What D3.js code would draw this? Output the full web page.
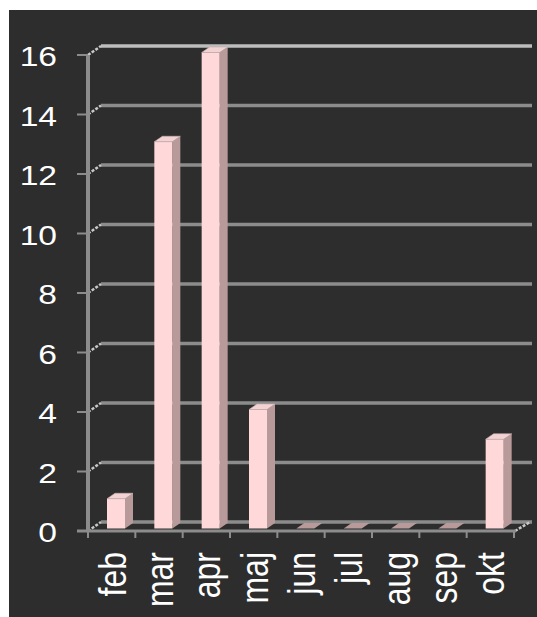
<!DOCTYPE html>
<html>
<head>
<meta charset="utf-8">
<script src="https://cdn.jsdelivr.net/npm/d3@7"></script>
<style>
html,body{margin:0;padding:0;background:#fff;}
svg{display:block;}
</style>
</head>
<body>
<svg id="chart" width="537" height="617"></svg>
<script>
const categories = ["feb","mar","apr","maj","jun","jul","aug","sep","okt"];
const values = [1,13,16,4,0,0,0,0,3];
const yTicks = [0,2,4,6,8,10,12,14,16];

const svg = d3.select("#chart");
svg.append("rect").attr("x",9).attr("y",10).attr("width",528).attr("height",607).attr("fill","#2d2d2d");

const y = d3.scaleLinear().domain([0,16]).range([531,55]);
const x = d3.scaleBand().domain(categories).range([88,514]).paddingInner(0).paddingOuter(0);
const depth = {dx:13, dy:-9};
const axisColor = "#8c8c8c";

// back wall gridlines
const g = svg.append("g");
yTicks.forEach(t => {
  const yy = y(t);
  const top = t === 16;
  g.append("line").attr("x1",101).attr("x2",532).attr("y1",yy+depth.dy).attr("y2",yy+depth.dy)
    .attr("stroke", top ? "#bdbdbd" : axisColor).attr("stroke-width",3.5);
  g.append("line").attr("x1",88).attr("x2",101).attr("y1",yy).attr("y2",yy+depth.dy)
    .attr("stroke","#c8c8c8").attr("stroke-width",2.5).attr("stroke-dasharray","3,1.5");
  g.append("line").attr("x1",77).attr("x2",88).attr("y1",yy).attr("y2",yy)
    .attr("stroke",axisColor).attr("stroke-width",2);
  g.append("text").attr("transform",`translate(57,${yy+11}) scale(1.2,1)`)
    .attr("text-anchor","end").attr("fill","#fff")
    .attr("font-family","Liberation Sans, Arial, sans-serif").attr("font-size",28)
    .text(t);
});
// right floor diagonal
g.append("line").attr("x1",515).attr("x2",530).attr("y1",y(0)).attr("y2",y(0)+depth.dy)
  .attr("stroke","#c8c8c8").attr("stroke-width",2.5).attr("stroke-dasharray","3,1.5");

// vertical axis
g.append("line").attr("x1",88).attr("x2",88).attr("y1",y(16)).attr("y2",y(0)+1)
  .attr("stroke",axisColor).attr("stroke-width",4);
// x axis
g.append("line").attr("x1",77).attr("x2",516).attr("y1",y(0)).attr("y2",y(0))
  .attr("stroke",axisColor).attr("stroke-width",3);
const bounds = categories.map(c => x(c)).concat([x.range()[1]]);
bounds.forEach(b => {
  g.append("line").attr("x1",b).attr("x2",b).attr("y1",y(0)).attr("y2",y(0)+7)
    .attr("stroke",axisColor).attr("stroke-width",2);
});

// bars
const barOff = 19, barW = 18, side = {dx:8, dy:-5.5}, lift = -2.5;
const bars = svg.append("g");
categories.forEach((c,i) => {
  const v = values[i];
  const x0 = x(c) + barOff, x1 = x0 + barW;
  const yb = y(0) + lift, yt = y(v) + lift;
  if (v > 0) {
    bars.append("path").attr("d",`M${x1},${yt}L${x1+side.dx},${yt+side.dy}L${x1+side.dx},${yb+side.dy}L${x1},${yb}Z`)
      .attr("fill","#b89a9a");
    bars.append("rect").attr("x",x0).attr("y",yt).attr("width",barW).attr("height",yb-yt)
      .attr("fill","#ffd9d9");
    bars.append("path").attr("d",`M${x0},${yt}L${x0+side.dx},${yt+side.dy}L${x1+side.dx},${yt+side.dy}L${x1},${yt}Z`)
      .attr("fill","#f2d2d2").attr("stroke","#c9b0b0").attr("stroke-width",0.6);
  } else {
    bars.append("path").attr("d",`M${x0},${yt}L${x0+side.dx},${yt+side.dy}L${x1+side.dx},${yt+side.dy}L${x1},${yt}Z`)
      .attr("fill","#b89a9a");
  }
});

// x labels
categories.forEach(c => {
  const cx = x(c) + x.bandwidth()/2 + 14;
  svg.append("text").attr("transform",`translate(${cx},552) scale(1.2,1) rotate(-90)`)
    .attr("text-anchor","end").attr("fill","#fff")
    .attr("font-family","Liberation Sans, Arial, sans-serif").attr("font-size",32)
    .text(c);
});
</script>
</body>
</html>
